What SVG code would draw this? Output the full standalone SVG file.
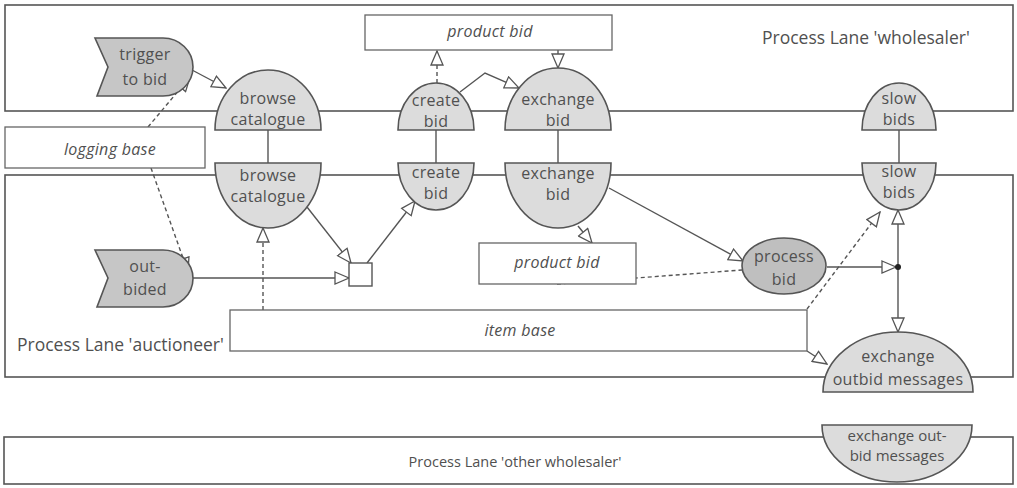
<svg xmlns="http://www.w3.org/2000/svg" width="1017" height="488" viewBox="0 0 1017 488">
<style>
.lane{fill:none;stroke:#555;stroke-width:1.6}
.box{fill:#fff;stroke:#666;stroke-width:1.3}
.fn{fill:#dcdcdc;stroke:#555;stroke-width:1.6}
.ev{fill:#c6c6c6;stroke:#555;stroke-width:1.6}
.pr{fill:#bfbfbf;stroke:#555;stroke-width:1.6}
.t{font-family:"Open Sans","Liberation Sans",sans-serif;font-size:16px;letter-spacing:0.3px;fill:#505050;text-anchor:middle}
.i{font-family:"Open Sans","Liberation Sans",sans-serif;font-size:16px;letter-spacing:0.3px;fill:#505050;text-anchor:middle;font-style:italic}
.l{font-family:"Open Sans","Liberation Sans",sans-serif;font-size:17.5px;fill:#505050}
.s{font-family:"Open Sans","Liberation Sans",sans-serif;font-size:15px;fill:#505050;text-anchor:middle}
.c{fill:none;stroke:#555;stroke-width:1.4}
.d{fill:none;stroke:#555;stroke-width:1.4;stroke-dasharray:4 3}
</style>
<defs>
<marker id="a" markerUnits="userSpaceOnUse" markerWidth="16" markerHeight="14" viewBox="-1 -1 16 14" refX="14" refY="6" orient="auto">
<path d="M0,0 L14,6 L0,12 Z" fill="#fff" stroke="#555" stroke-width="1.3"/>
</marker>
</defs>
<rect width="1017" height="488" fill="#fff"/>
<g id="lanes">
<rect class="lane" x="5" y="5" width="1008" height="106"/>
<text class="l" x="762" y="44">Process Lane 'wholesaler'</text>
<rect class="lane" x="5" y="175" width="1008" height="202"/>
<text class="l" x="17" y="351">Process Lane 'auctioneer'</text>
<rect class="lane" x="4" y="437" width="1009" height="47"/>
<text class="l" x="515" y="467" text-anchor="middle" style="font-size:14.5px">Process Lane 'other wholesaler'</text>
</g>
<g id="connectors">
<line class="c" x1="268" y1="130" x2="268" y2="163"/>
<line class="c" x1="436" y1="130" x2="436" y2="163"/>
<line class="c" x1="558" y1="130" x2="558" y2="163"/>
<line class="c" x1="899" y1="130" x2="899" y2="163"/>
<line class="c" x1="192" y1="70" x2="226" y2="88" marker-end="url(#a)"/>
<line class="d" x1="148" y1="127" x2="190" y2="77" marker-end="url(#a)"/>
<line class="d" x1="151" y1="168" x2="188" y2="272" marker-end="url(#a)"/>
<line class="c" x1="193" y1="278" x2="349" y2="278" marker-end="url(#a)"/>
<line class="c" x1="307" y1="207" x2="351" y2="263" marker-end="url(#a)"/>
<line class="c" x1="367" y1="263" x2="415" y2="201" marker-end="url(#a)"/>
<line class="d" x1="263" y1="310" x2="263" y2="228" marker-end="url(#a)"/>
<line class="d" x1="437" y1="83" x2="437" y2="51" marker-end="url(#a)"/>
<polyline class="c" points="460,92 485,73 519,88" marker-end="url(#a)"/>
<line class="c" x1="558" y1="50" x2="558" y2="68" marker-end="url(#a)"/>
<line class="c" x1="578" y1="226" x2="592" y2="243" marker-end="url(#a)"/>
<line class="c" x1="609" y1="188" x2="743" y2="261" marker-end="url(#a)"/>
<line class="d" x1="557" y1="284" x2="742" y2="270"/>
<line class="c" x1="827" y1="267" x2="896" y2="267" marker-end="url(#a)"/>
<line class="c" x1="898" y1="267" x2="898" y2="210" marker-end="url(#a)"/>
<line class="c" x1="898" y1="267" x2="898" y2="332" marker-end="url(#a)"/>
<line class="d" x1="807" y1="309" x2="880" y2="212" marker-end="url(#a)"/>
<line class="c" x1="807" y1="351" x2="827" y2="364" marker-end="url(#a)"/>
<circle cx="898" cy="267" r="3" fill="#222"/>
</g>
<g id="trigger-to-bid">
<path class="ev" d="M95,38 L163,38 A30,29 0 0 1 163,96 L97,96 L108,67 Z"/>
<text class="t" x="145" y="60">trigger</text>
<text class="t" x="145" y="85">to bid</text>
</g>
<g id="browse-catalogue-w">
<path class="fn" d="M215,130 A53,60 0 0 1 321,130 Z"/>
<text class="t" x="268" y="104">browse</text>
<text class="t" x="268" y="125">catalogue</text>
</g>
<g id="browse-catalogue-a">
<path class="fn" d="M215,163 A53,65 0 0 0 321,163 Z"/>
<text class="t" x="268" y="181">browse</text>
<text class="t" x="268" y="202">catalogue</text>
</g>
<g id="create-bid-w">
<path class="fn" d="M398,130 A38,47 0 0 1 474,130 Z"/>
<text class="t" x="436" y="106">create</text>
<text class="t" x="436" y="127">bid</text>
</g>
<g id="create-bid-a">
<path class="fn" d="M398,163 A38,47 0 0 0 474,163 Z"/>
<text class="t" x="436" y="178">create</text>
<text class="t" x="436" y="199">bid</text>
</g>
<g id="exchange-bid-w">
<path class="fn" d="M505,130 A53,62 0 0 1 611,130 Z"/>
<text class="t" x="558" y="105">exchange</text>
<text class="t" x="558" y="126">bid</text>
</g>
<g id="exchange-bid-a">
<path class="fn" d="M505,163 A53,65 0 0 0 611,163 Z"/>
<text class="t" x="558" y="179">exchange</text>
<text class="t" x="558" y="200">bid</text>
</g>
<g id="slow-bids-w">
<path class="fn" d="M862,130 A37,47 0 0 1 936,130 Z"/>
<text class="t" x="899" y="104">slow</text>
<text class="t" x="899" y="125">bids</text>
</g>
<g id="slow-bids-a">
<path class="fn" d="M862,163 A37,47 0 0 0 936,163 Z"/>
<text class="t" x="899" y="177">slow</text>
<text class="t" x="899" y="198">bids</text>
</g>
<g id="product-bid-top">
<rect class="box" x="365" y="15" width="247" height="35"/>
<text class="i" x="490" y="37">product bid</text>
</g>
<g id="logging-base">
<rect class="box" x="5" y="127" width="200" height="41"/>
<text class="i" x="110" y="155">logging base</text>
</g>
<g id="out-bided">
<path class="ev" d="M95,250 L163,250 A30,28.5 0 0 1 163,307 L97,307 L108,278 Z"/>
<text class="t" x="145" y="272">out-</text>
<text class="t" x="145" y="295">bided</text>
</g>
<g id="connector-square">
<rect x="349" y="263" width="23" height="23" fill="#fff" stroke="#555" stroke-width="1.4"/>
</g>
<g id="product-bid-mid">
<rect class="box" x="479" y="243" width="157" height="41"/>
<text class="i" x="557" y="268">product bid</text>
</g>
<g id="process-bid">
<ellipse class="pr" cx="784" cy="266" rx="42" ry="28"/>
<text class="t" x="784" y="262">process</text>
<text class="t" x="784" y="285">bid</text>
</g>
<g id="item-base">
<rect class="box" x="230" y="310" width="577" height="41"/>
<text class="i" x="520" y="336">item base</text>
</g>
<g id="exchange-outbid-messages">
<path class="fn" d="M823,392 A75,60 0 0 1 973,392 Z"/>
<text class="t" x="898" y="362">exchange</text>
<text class="t" x="898" y="385">outbid messages</text>
</g>
<g id="exchange-out-bid-messages">
<path class="fn" d="M822,425 A75,57 0 0 0 972,425 Z"/>
<text class="s" x="897" y="441">exchange out-</text>
<text class="s" x="897" y="461">bid messages</text>
</g>
</svg>
